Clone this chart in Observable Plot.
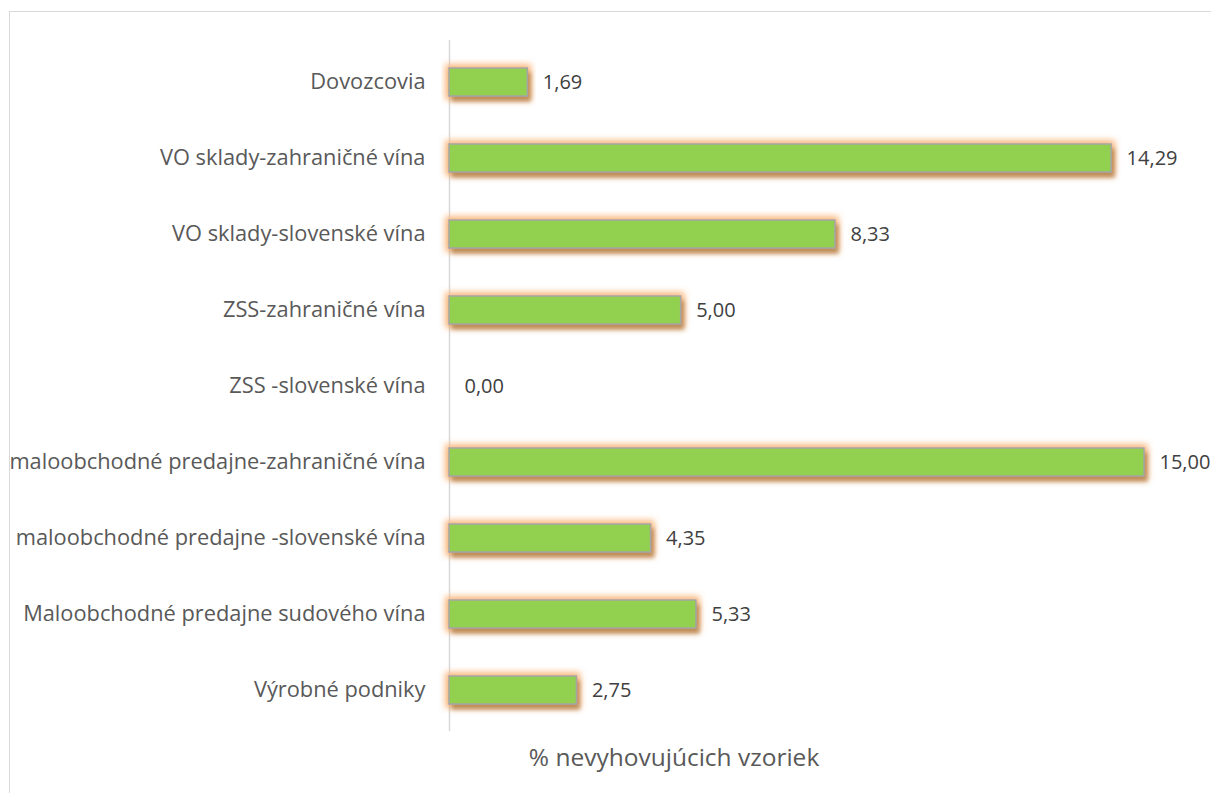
<!DOCTYPE html>
<html>
<head>
<meta charset="utf-8">
<script src="https://cdn.jsdelivr.net/npm/d3@7"></script>
<script src="https://cdn.jsdelivr.net/npm/@observablehq/plot@0.6"></script>
<style>
  html, body { margin: 0; padding: 0; background: #fff; overflow: hidden; }
  #frame { position: absolute; left: 9px; top: 11px; width: 1400px; height: 1000px; border: 1px solid #d9d9d9; box-sizing: border-box; }
  #chart { position: absolute; left: 0; top: 0; }
</style>
</head>
<body>
<div id="frame"></div>
<div id="chart"></div>
<script>
const categories = [
  "Dovozcovia",
  "VO sklady-zahraničné vína",
  "VO sklady-slovenské vína",
  "ZSS-zahraničné vína",
  "ZSS -slovenské vína",
  "maloobchodné predajne-zahraničné vína",
  "maloobchodné predajne -slovenské vína",
  "Maloobchodné predajne sudového vína",
  "Výrobné podniky"
];
const values = [1.69, 14.29, 8.33, 5.00, 0.00, 15.00, 4.35, 5.33, 2.75];
const axisLabel = "% nevyhovujúcich vzoriek";

const data = categories.map((c, i) => ({category: c, value: values[i]}));
const fmt = v => v.toFixed(2).replace(".", ",");
const font = "'Open Sans', sans-serif";

const plot = Plot.plot({
  width: 1211,
  height: 793,
  marginLeft: 449,
  marginRight: 67,
  marginTop: 40,
  marginBottom: 62,
  style: {fontFamily: font, background: "transparent"},
  x: {domain: [0, 15], axis: null},
  y: {domain: categories, paddingInner: 0.635, paddingOuter: 0.3175, axis: null},
  marks: [
    Plot.ruleX([0], {stroke: "#d9d9d9", strokeWidth: 1.5}),
    Plot.barX(data, {x: "value", y: "category", fill: "#92d050", stroke: "#a5a5a5", strokeWidth: 1.5}),
    Plot.text(data, {x: "value", y: "category", text: d => fmt(d.value), textAnchor: "start", dx: 15, fontSize: 20, fill: "#404040"}),
    Plot.text(categories, {x: 0, y: d => d, text: d => d, textAnchor: "end", dx: -24, fontSize: 21.8, fill: "#595959"}),
    Plot.text([axisLabel], {frameAnchor: "bottom", dx: -123, dy: 34, fontSize: 24.5, fill: "#595959"})
  ]
});

const svg = d3.select(plot);
const defs = svg.insert("defs", ":first-child");
const f = defs.append("filter").attr("id", "glow")
  .attr("x", "-10%").attr("y", "-40%").attr("width", "120%").attr("height", "180%");
f.append("feMorphology").attr("in", "SourceAlpha").attr("operator", "dilate").attr("radius", 3).attr("result", "dil");
f.append("feGaussianBlur").attr("in", "dil").attr("stdDeviation", 3).attr("result", "blur");
f.append("feFlood").attr("flood-color", "#f9b57a").attr("flood-opacity", 1).attr("result", "orange");
f.append("feComposite").attr("in", "orange").attr("in2", "blur").attr("operator", "in").attr("result", "glow");
f.append("feOffset").attr("in", "SourceAlpha").attr("dx", 3).attr("dy", 5).attr("result", "off");
f.append("feGaussianBlur").attr("in", "off").attr("stdDeviation", 2).attr("result", "offblur");
f.append("feFlood").attr("flood-color", "#a8773f").attr("flood-opacity", 0.75).attr("result", "brown");
f.append("feComposite").attr("in", "brown").attr("in2", "offblur").attr("operator", "in").attr("result", "shadow");
const m = f.append("feMerge");
m.append("feMergeNode").attr("in", "glow");
m.append("feMergeNode").attr("in", "shadow");
m.append("feMergeNode").attr("in", "SourceGraphic");
svg.selectAll("g[aria-label='bar'] rect").filter(function() { return +this.getAttribute("width") > 0.5; }).attr("filter", "url(#glow)");
svg.selectAll("g[aria-label='bar'] rect").filter(function() { return +this.getAttribute("width") <= 0.5; }).attr("stroke", "none");

document.getElementById("chart").appendChild(plot);
</script>
</body>
</html>
